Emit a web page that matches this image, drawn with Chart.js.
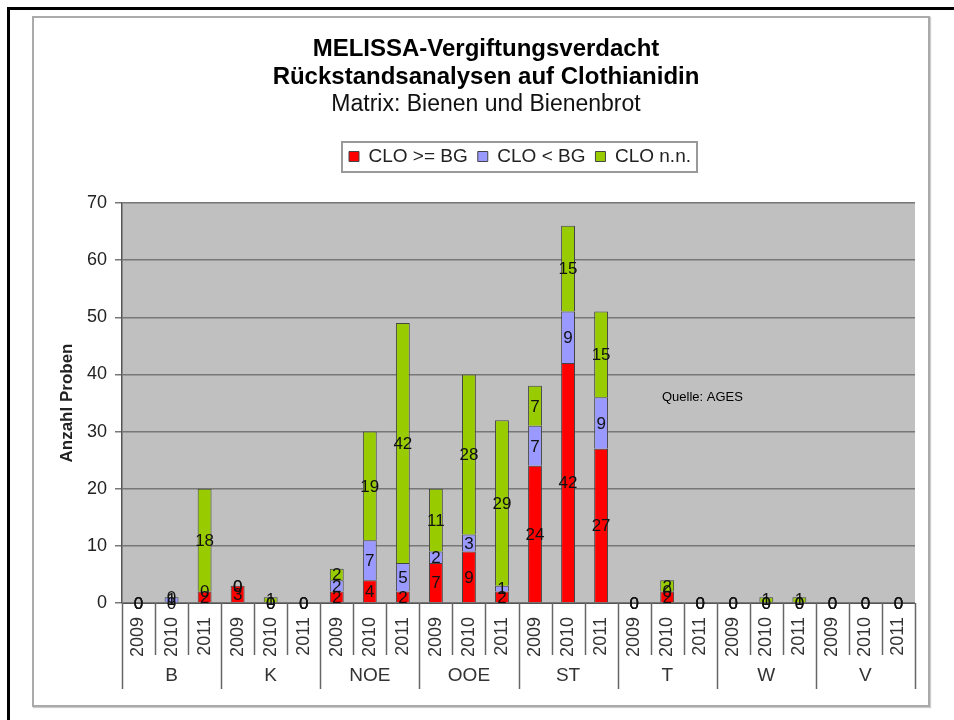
<!DOCTYPE html>
<html>
<head>
<meta charset="utf-8">
<script src="https://cdn.jsdelivr.net/npm/chart.js@4.4.1/dist/chart.umd.min.js"></script>
<style>
  html, body { margin: 0; padding: 0; background: #fff; }
  #wrap { position: relative; width: 954px; height: 720px; overflow: hidden; }
  #frame { position: absolute; left: 7px; top: 7px; width: 980px; height: 760px;
           border-top: 3px solid #000; border-left: 3px solid #000; }
  #box { position: absolute; left: 32px; top: 16px; width: 894px; height: 687px;
         border: 2px solid #aaa; box-shadow: 1px 1px 1px #ccc; }
  #chart { position: absolute; left: 0; top: 0; }
</style>
</head>
<body>
<div id="wrap">
  <div id="frame"></div>
  <div id="box"></div>
  <canvas id="chart" width="954" height="720"></canvas>
</div>
<script>
// Bundesländer (Gruppen) und Jahre
const groups = ['B', 'K', 'NOE', 'OOE', 'ST', 'T', 'W', 'V'];
const years = ['2009', '2010', '2011'];

// Werte je Balken (Gruppe x Jahr)
const cloAboveBG = [0, 0, 2,  3, 0, 0,  2, 4, 2,  7, 9, 2,  24, 42, 27,  0, 2, 0,  0, 0, 0,  0, 0, 0];
const cloBelowBG = [0, 1, 0,  0, 0, 0,  2, 7, 5,  2, 3, 1,  7, 9, 9,     0, 0, 0,  0, 0, 0,  0, 0, 0];
const cloNN      = [0, 0, 18, 0, 1, 0,  2, 19, 42, 11, 28, 29, 7, 15, 15, 0, 2, 0,  0, 1, 1,  0, 0, 0];

const yTicks = [0, 10, 20, 30, 40, 50, 60, 70];

const FONT = '"Liberation Sans", Arial, sans-serif';

const labels = [];
groups.forEach(() => years.forEach(y => labels.push(y)));

// grey plot background
const plotBg = {
  id: 'plotBg',
  beforeDraw(chart) {
    const { ctx, chartArea: a } = chart;
    ctx.save();
    ctx.fillStyle = '#c0c0c0';
    ctx.fillRect(a.left, a.top, a.right - a.left, a.bottom - a.top);
    ctx.restore();
  }
};

// legend: extra room below, shifted right, with a frame
const LEGEND_SHIFT = 34;
const legendFrame = {
  id: 'legendFrame',
  afterInit(chart) {
    const lg = chart.legend;
    if (!lg) return;
    const fit = lg.fit;
    lg.fit = function () {
      fit.call(this);
      this.height += 27;
    };
  },
  afterUpdate(chart) {
    const lg = chart.legend;
    if (!lg) return;
    lg.left += LEGEND_SHIFT;
    lg.right += LEGEND_SHIFT;
    lg.legendHitBoxes.forEach(h => { h.left += LEGEND_SHIFT; });
  },
  afterDraw(chart) {
    const lg = chart.legend;
    if (!lg || !lg.legendHitBoxes.length) return;
    const hb = lg.legendHitBoxes;
    const left = Math.min(...hb.map(h => h.left)) - 7;
    const right = Math.max(...hb.map(h => h.left + h.width)) + 6;
    const top = hb[0].top - 5;
    const bottom = hb[0].top + hb[0].height + 6;
    const ctx = chart.ctx;
    ctx.save();
    ctx.strokeStyle = '#999';
    ctx.lineWidth = 2;
    ctx.strokeRect(left, top, right - left, bottom - top);
    ctx.restore();
  }
};

// value labels in every segment
const valueLabels = {
  id: 'valueLabels',
  afterDatasetsDraw(chart) {
    const ctx = chart.ctx;
    ctx.save();
    ctx.font = '17px ' + FONT;
    ctx.fillStyle = '#111';
    ctx.textAlign = 'center';
    ctx.textBaseline = 'middle';
    chart.data.datasets.forEach((ds, di) => {
      chart.getDatasetMeta(di).data.forEach((bar, i) => {
        const y = (bar.y + bar.base) / 2;
        ctx.fillText(String(ds.data[i]), bar.x, y + 1);
      });
    });
    ctx.restore();
  }
};

// separators and group names below the axis
const groupAxis = {
  id: 'groupAxis',
  afterDraw(chart) {
    const ctx = chart.ctx;
    const xs = chart.scales.x;
    const a = chart.chartArea;
    const half = (xs.getPixelForValue(1) - xs.getPixelForValue(0)) / 2;
    ctx.save();
    ctx.strokeStyle = '#666';
    ctx.lineWidth = 1.5;
    for (let i = 0; i <= labels.length; i++) {
      const x = Math.round((i < labels.length ? xs.getPixelForValue(i) - half : xs.getPixelForValue(i - 1) + half)) + 0.5;
      const end = i % 3 === 0 ? 689 : 655;
      ctx.beginPath();
      ctx.moveTo(x, a.bottom);
      ctx.lineTo(x, end);
      ctx.stroke();
    }
    ctx.font = '19px ' + FONT;
    ctx.fillStyle = '#333';
    ctx.textAlign = 'center';
    ctx.textBaseline = 'middle';
    groups.forEach((g, gi) => {
      ctx.fillText(g, xs.getPixelForValue(gi * 3 + 1), 676);
    });
    // Quelle
    ctx.font = '13px ' + FONT;
    ctx.fillStyle = '#000';
    ctx.textAlign = 'left';
    ctx.fillText('Quelle: AGES', 662, 397);
    ctx.restore();
  }
};

const barOpts = { borderColor: '#444', borderWidth: 1, barPercentage: 0.42, categoryPercentage: 1 };

new Chart(document.getElementById('chart'), {
  type: 'bar',
  data: {
    labels: labels,
    datasets: [
      { label: 'CLO >= BG', data: cloAboveBG, backgroundColor: '#ff0000', ...barOpts },
      { label: 'CLO < BG', data: cloBelowBG, backgroundColor: '#9999ff', ...barOpts },
      { label: 'CLO n.n.', data: cloNN, backgroundColor: '#99cc00', ...barOpts }
    ]
  },
  options: {
    responsive: false,
    animation: false,
    layout: { padding: { top: 26, left: 57, right: 39, bottom: 15 } },
    plugins: {
      title: {
        display: true,
        text: ['MELISSA-Vergiftungsverdacht', 'Rückstandsanalysen auf Clothianidin'],
        font: { family: FONT, size: 24, weight: 'bold', lineHeight: 1.167 },
        color: '#000',
        padding: { top: 9, bottom: 0 }
      },
      subtitle: {
        display: true,
        text: 'Matrix: Bienen und Bienenbrot',
        font: { family: FONT, size: 23, lineHeight: 1.13 },
        color: '#111',
        padding: { top: 1, bottom: 19 }
      },
      legend: {
        position: 'top',
        labels: {
          font: { family: FONT, size: 19 },
          color: '#222',
          boxWidth: 10,
          boxHeight: 10,
          padding: 10
        }
      },
      tooltip: { enabled: false }
    },
    scales: {
      x: {
        stacked: true,
        grid: { display: false },
        border: { display: true, color: '#555' },
        ticks: {
          font: { family: FONT, size: 18 },
          color: '#333',
          maxRotation: 90,
          minRotation: 90,
          padding: 6,
          autoSkip: false
        },
        afterFit(scale) { scale.height = 102; }
      },
      y: {
        stacked: true,
        min: 0,
        max: 70,
        afterBuildTicks(scale) { scale.ticks = yTicks.map(v => ({ value: v })); },
        grid: { color: '#777', lineWidth: 1.5, tickLength: 7 },
        border: { display: true, color: '#555', width: 1.5 },
        ticks: { font: { family: FONT, size: 18 }, color: '#222', padding: 8 },
        title: {
          display: true,
          text: 'Anzahl Proben',
          font: { family: FONT, size: 17, weight: 'bold' },
          color: '#222',
          padding: 0
        },
        afterFit(scale) { scale.width = 65; }
      }
    }
  },
  plugins: [plotBg, legendFrame, valueLabels, groupAxis]
});
</script>
</body>
</html>
